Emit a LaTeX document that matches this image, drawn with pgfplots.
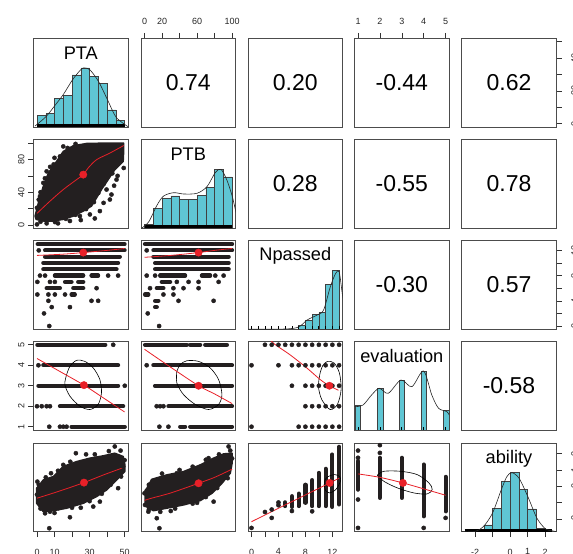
\documentclass[border=0pt]{standalone}
\usepackage{fontspec}
\setmainfont{Liberation Sans}
\usepackage{pgfplots}
\pgfplotsset{compat=1.18}
\definecolor{ptcol}{RGB}{35,31,32}
\definecolor{rcol}{RGB}{232,32,40}
\definecolor{histcol}{RGB}{95,198,212}
\newcommand\namefont{\fontsize{18.2}{20}\selectfont}
\newcommand\corfont{\fontsize{23}{25}\selectfont}
\pgfplotsset{
  panel/.style={scale only axis, width=94.6pt, height=88.5pt, anchor=south west,
    axis line style={draw=black!70, line width=0.7pt},
    xtick=\empty, ytick=\empty, tick align=outside, major tick length=5.5pt,
    tick style={black!80, line width=0.6pt},
    tick label style={font=\fontsize{9}{10}\selectfont, text=black!85},
    /pgf/number format/assume math mode=true},
  pts/.style={only marks, mark=*, mark size=2.1pt, color=ptcol, mark options={draw=none, fill=ptcol}},
  seg/.style={no markers, color=ptcol, line width=4.2pt, line cap=round, unbounded coords=jump},
  loess/.style={no markers, color=rcol, line width=0.8pt, smooth},
  mdot/.style={only marks, mark=*, mark size=3.7pt, color=rcol, mark options={draw=none, fill=rcol}},
  ell/.style={no markers, black, line width=0.6pt, smooth},
  blob/.style={fill=ptcol, draw=ptcol, line width=1.5pt, line join=round},
  hist/.style={ybar interval, fill=histcol, draw=black!75, line width=0.5pt},
  dens/.style={no markers, smooth, black!85, line width=0.6pt},
  rug/.style={no markers, black, line width=3pt},
  rugc/.style={ycomb, no markers, black, line width=0.8pt},
  rlab/.style={ytick pos=right, yticklabel pos=right, yticklabel style={rotate=90, anchor=north, yshift=-6pt}},
  blab/.style={xtick pos=left, xticklabel style={yshift=-8pt}},
}
\begin{document}
\begin{tikzpicture}
\path[use as bounding box] (0pt,0pt) rectangle (573pt,554pt);
\clip (0pt,0pt) rectangle (573pt,554pt);

% ================= ROW 1 =================
\begin{axis}[panel, at={(33.5pt,427pt)}, xmin=-2, xmax=52, ymin=0, ymax=88.5]
\addplot[hist] coordinates {(0,11.3)(5,13.3)(10,28.3)(15,31.3)(20,52)(25,59)(30,50.7)(35,43.3)(40,17)(45,6.3)(50,0)};
\addplot[rug] coordinates {(0,1.5)(50,1.5)};
\addplot[dens] coordinates {(-1.1,1)(5.1,10.3)(10,21)(15.1,32.7)(20.2,47)(25.2,57.7)(27.4,59)(30.3,57)(35.2,45.3)(40.3,27)(45.2,9.7)(52,0.3)};
\node[font=\namefont, anchor=base] at (rel axis cs:0.5,0.765) {PTA};
\end{axis}
\begin{axis}[panel, at={(141pt,427pt)}, xmin=-4, xmax=104, ymin=0, ymax=1,
  xtick={0,20,40,60,80,100}, xticklabels={0,20,,60,,100}, xtick pos=right, xticklabel pos=right, xticklabel style={yshift=5pt}]
\node[font=\corfont] at (rel axis cs:0.5,0.5) {0.74};
\end{axis}
\begin{axis}[panel, at={(248pt,427pt)}, xmin=0, xmax=1, ymin=0, ymax=1]
\node[font=\corfont] at (rel axis cs:0.5,0.5) {0.20};
\end{axis}
\begin{axis}[panel, at={(354.5pt,427pt)}, xmin=0.84, xmax=5.16, ymin=0, ymax=1,
  xtick={1,2,3,4,5}, xtick pos=right, xticklabel pos=right, xticklabel style={yshift=5pt}]
\node[font=\corfont] at (rel axis cs:0.5,0.5) {-0.44};
\end{axis}
\begin{axis}[panel, rlab, at={(461.7pt,427pt)}, xmin=0, xmax=1, ymin=-2, ymax=52,
  ytick={0,10,20,30,40,50}, yticklabels={0,,20,,40,}]
\node[font=\corfont] at (rel axis cs:0.5,0.5) {0.62};
\end{axis}

% ================= ROW 2 =================
\begin{axis}[panel, at={(33.5pt,325.7pt)}, xmin=-2, xmax=52, ymin=-4, ymax=104,
  ytick={0,20,40,60,80,100}, yticklabels={0,,40,,80,}, ytick pos=left,
  yticklabel style={rotate=90, anchor=south}]
\addplot[blob] coordinates {(-1.1,10.9)(0.8,27.1)(3.6,47.3)(6.5,63.5)(11.2,77.7)(15,89.8)(20.7,96.7)(28.3,99.5)(39.7,100)(49.5,100)(49.5,91.8)(49.2,77.7)(44.4,67.5)(40.6,55.4)(36.8,43.3)(34,33.2)(31.1,23.1)(26.4,17)(20.7,10.9)(15,6.9)(9.3,4.9)(3.6,4.9)(-0.5,6.9)} --cycle;
\addplot[pts] coordinates {(15,95.9)(13.1,83.7)(5.5,65.5)(3.6,51.4)(1.7,35.2)(0,0.8)(5.5,2)(10.3,3.6)(24.5,10.9)(30.2,12.9)(39.7,43.3)(42.5,37.2)(35.9,17)(41.6,31.1)(45.4,55.4)(49.5,69.6)(18.8,4.9)(8.4,63.5)(0,21)(33,8)(46,60)(12,2)
 (2,40)(4.5,57)(7.5,71)(10,82)(17.5,94)(22,99)(9.5,74)(1,31)(47,80)(43,63)(38,50)(35,39)(32.5,28)(28,19.5)(22,12.5)(16.5,7.5)(44,72)(48,86)(25,6)(38,27)(44,48)(6,6)(2,4)};
\addplot[loess] coordinates {(0,14.2)(7.4,29.1)(15,43.3)(22.6,55.4)(26.4,61.5)(29.2,69.6)(34,79.7)(41.6,87.8)(49.5,97)};
\addplot[mdot] coordinates {(26.4,61.5)};
\end{axis}
\begin{axis}[panel, at={(141pt,325.7pt)}, xmin=-4, xmax=104, ymin=0, ymax=88.5]
\addplot[hist] coordinates {(0,4)(10,20)(20,29.6)(30,32.3)(40,29)(50,28.6)(60,32.6)(70,40.6)(80,59)(90,51.3)(100,0)};
\addplot[rug] coordinates {(0,1.5)(100,1.5)};
\addplot[dens] coordinates {(-3.4,0)(4.9,6.6)(14.4,23.3)(21.9,32.3)(33.3,35.6)(44.7,34.3)(59.9,35)(71.3,41.6)(80.7,55.6)(87.2,59)(94,48.3)(100.3,31.6)(104.5,15.3)};
\node[font=\namefont, anchor=base] at (rel axis cs:0.5,0.766) {PTB};
\end{axis}
\begin{axis}[panel, at={(248pt,325.7pt)}, xmin=0, xmax=1, ymin=0, ymax=1]
\node[font=\corfont] at (rel axis cs:0.5,0.5) {0.28};
\end{axis}
\begin{axis}[panel, at={(354.5pt,325.7pt)}, xmin=0, xmax=1, ymin=0, ymax=1]
\node[font=\corfont] at (rel axis cs:0.5,0.5) {-0.55};
\end{axis}
\begin{axis}[panel, at={(461.7pt,325.7pt)}, xmin=0, xmax=1, ymin=0, ymax=1]
\node[font=\corfont] at (rel axis cs:0.5,0.5) {0.78};
\end{axis}

% ================= ROW 3 =================
\begin{axis}[panel, at={(33.5pt,224.7pt)}, xmin=-2, xmax=52, ymin=-0.52, ymax=13.52]
\addplot[seg] coordinates {(0.4,13)(50,13) (0,nan) (4.6,12)(50,12) (0,nan) (4.6,11)(47.3,11) (0,nan) (3.6,10)(46.3,10) (0,nan) (3.6,9)(45.4,9) (0,nan)
 (10.2,8)(26.4,8) (0,nan) (31.1,8)(34.9,8) (0,nan) (16,7)(19.7,7) (0,nan) (23.5,7)(26.4,7) (0,nan) (5.5,6)(13.1,6) (0,nan) (20.7,6)(26.4,6) (0,nan) (19.7,5)(21.6,5)};
\addplot[pts] coordinates {(1,12)(1.7,8)(4.6,8)(40.6,8)(46.3,8)(0.2,7)(7.4,7)(10.2,7)(34,6)(0.2,5)(6.5,5)(10.2,5)(16,5)(6.5,4)(31.1,4)(34.9,4)(8.4,3)(18.8,3)(4,2)(7,0)};
\addplot[loess] coordinates {(0,11.2)(15,11.4)(26.4,11.65)(40,12)(50,12.3)};
\addplot[mdot] coordinates {(26.4,11.65)};
\end{axis}
\begin{axis}[panel, at={(141pt,224.7pt)}, xmin=-4, xmax=104, ymin=-0.52, ymax=13.52]
\addplot[seg] coordinates {(0.5,13)(100,13) (0,nan) (10.2,12)(100,12) (0,nan) (10.2,11)(96.1,11) (0,nan) (12.1,10)(96.1,10) (0,nan) (12.1,9)(96.1,9) (0,nan)
 (17.8,8)(46.4,8) (0,nan) (65.5,8)(75,8) (0,nan) (19.7,7)(29.3,7) (0,nan) (14,6)(21.6,6) (0,nan) (0.6,5)(4.4,5) (0,nan) (12.1,4)(15.9,4) (0,nan) (12.1,3)(14,3)};
\addplot[pts] coordinates {(2.5,12)(2.5,8)(12.1,8)(80.8,8)(90.3,8)(36.9,7)(50.3,7)(61.7,7)(84.6,7)(6.3,6)(33,6)(44.5,6)(61.7,6)(21.6,5)(33,5)(38.8,4)(78.9,4)(3.7,2)(16.7,0)};
\addplot[loess] coordinates {(0,10.9)(30,11.2)(61.7,11.65)(80,12)(100,12.3)};
\addplot[mdot] coordinates {(61.7,11.65)};
\end{axis}
\begin{axis}[panel, at={(248pt,224.7pt)}, xmin=-0.52, xmax=13.52, ymin=0, ymax=88.5]
\addplot[hist] coordinates {(7,3.6)(8,8.6)(9,15)(10,16.6)(11,45)(12,58.6)(13,0)};
\addplot[rugc] coordinates {(0,3)(1,3)(2,3)(3,3)(4,3)(5,3)(6,3)(7,3)(8,3)(9,3)(10,3)(11,3)(12,3)(13,3)};
\addplot[dens] coordinates {(-0.55,0)(5,0.3)(7,2.3)(8.25,9.3)(9.75,14.3)(10.7,19.3)(11.7,42.6)(12.5,56)(13,57.6)(13.4,39.3)(13.7,22.6)};
\node[font=\namefont, anchor=base] at (rel axis cs:0.5,0.774) {Npassed};
\end{axis}
\begin{axis}[panel, at={(354.5pt,224.7pt)}, xmin=0, xmax=1, ymin=0, ymax=1]
\node[font=\corfont] at (rel axis cs:0.5,0.5) {-0.30};
\end{axis}
\begin{axis}[panel, rlab, at={(461.7pt,224.7pt)}, xmin=0, xmax=1, ymin=-0.52, ymax=13.52,
  ytick={0,2,4,6,8,10,12}, yticklabels={0,,4,,8,,12}]
\node[font=\corfont] at (rel axis cs:0.5,0.5) {0.57};
\end{axis}

% ================= ROW 4 =================
\begin{axis}[panel, at={(33.5pt,124pt)}, xmin=-2, xmax=52, ymin=0.84, ymax=5.16,
  ytick={1,2,3,4,5}, ytick pos=left, yticklabel style={rotate=90, anchor=south}]
\addplot[seg] coordinates {(0.2,5)(39,5) (0,nan) (3.6,4)(46.3,4) (0,nan) (0.8,3)(46.3,3) (0,nan) (13.1,2)(49.2,2) (0,nan) (19.7,1)(50.1,1)};
\addplot[pts] coordinates {(43.5,5)(0.8,4)(50.1,3)(0,2)(2.7,2)(5.5,2)(7.4,2)(7,1)(13.1,1)(15,1)(16.9,1)};
\addplot[ell] coordinates {(16.9,3.54)(15.9,3.06)(18.8,2.49)(24.5,2.0)(30.2,1.84)(34.9,2.09)(36.8,2.65)(35.9,3.3)(32.1,3.87)(27.3,4.19)(22.6,4.24)(18.8,3.95)(16.9,3.54)};
\addplot[loess] coordinates {(0,4.33)(13,3.7)(26.8,3.03)(38,2.4)(50,1.72)};
\addplot[mdot] coordinates {(26.8,3.03)};
\end{axis}
\begin{axis}[panel, at={(141pt,124pt)}, xmin=-4, xmax=104, ymin=0.84, ymax=5.16]
\addplot[seg] coordinates {(0.6,5)(48.3,5) (0,nan) (52.1,5)(63.6,5) (0,nan) (69.3,5)(94.1,5) (0,nan) (10.1,4)(99.9,4) (0,nan) (12,3)(99.9,3) (0,nan) (27.3,2)(99.9,2) (0,nan) (40.7,1)(46.4,1) (0,nan) (52.1,1)(99.9,1)};
\addplot[pts] coordinates {(2.5,4)(13.9,2)(17.8,2)(21.6,2)(17,1)(27.3,1)};
\addplot[ell] coordinates {(36.9,3.7)(36.9,3.14)(44.5,2.57)(57.9,2.09)(73.1,1.84)(84.6,2.09)(88.4,2.57)(84.6,3.3)(75,3.87)(61.7,4.19)(48.3,4.22)(40.7,4.03)(36.9,3.7)};
\addplot[loess] coordinates {(0,4.78)(30,3.9)(61.7,3.0)(80,2.6)(100,2.13)};
\addplot[mdot] coordinates {(61.7,3.0)};
\end{axis}
\begin{axis}[panel, at={(248pt,124pt)}, xmin=-0.52, xmax=13.52, ymin=0.84, ymax=5.16]
\addplot[pts] coordinates {(2,5)(3,5)(4,5)(5,5)(6,5)(7,5)(8,5)(9,5)(10,5)(11,5)(12,5)(13,5)
 (0,4)(4,4)(6,4)(7,4)(8,4)(9,4)(10,4)(11,4)(12,4)(13,4)
 (6,3)(8,3)(9,3)(10,3)(11,3)(12,3)(13,3)
 (8,2)(9,2)(10,2)(11,2)(12,2)(13,2)
 (0,1)(7,1)(8,1)(9,1)(10,1)(11,1)(12,1)(13,1)};
\addplot[ell] coordinates {(10.18,3.62)(9.93,2.98)(10.42,2.33)(11.66,1.84)(12.75,2.09)(13.3,2.81)(13.05,3.62)(12.26,4.11)(11.27,4.19)(10.57,3.98)(10.18,3.62)};
\addplot[loess] coordinates {(2,5.55)(3.24,5.08)(5.72,4.51)(8.2,3.87)(10.2,3.3)(11.56,3.0)(12.9,2.78)};
\addplot[mdot] coordinates {(11.56,3.0)};
\end{axis}
\begin{axis}[panel, at={(354.5pt,124pt)}, xmin=0.84, xmax=5.16, ymin=0, ymax=88.5]
\addplot[fill=histcol, draw=black!75, line width=0.5pt] coordinates {(0.87,0)(0.87,24.3)(1.12,24.3)(1.12,0)} --cycle;
\addplot[fill=histcol, draw=black!75, line width=0.5pt] coordinates {(1.87,0)(1.87,41.7)(2.13,41.7)(2.13,0)} --cycle;
\addplot[fill=histcol, draw=black!75, line width=0.5pt] coordinates {(2.88,0)(2.88,50)(3.12,50)(3.12,0)} --cycle;
\addplot[fill=histcol, draw=black!75, line width=0.5pt] coordinates {(3.88,0)(3.88,58.3)(4.12,58.3)(4.12,0)} --cycle;
\addplot[fill=histcol, draw=black!75, line width=0.5pt] coordinates {(4.89,0)(4.89,20)(5.15,20)(5.15,0)} --cycle;
\addplot[rugc] coordinates {(1,3)(2,3)(3,3)(4,3)(5,3)};
\addplot[dens] coordinates {(0.85,23.3)(1.23,25)(1.62,35)(1.97,41.7)(2.38,36.7)(2.96,50)(3.46,43.3)(3.99,59)(4.37,35)(4.68,21.7)(5.06,18.3)(5.22,12.7)};
\node[font=\namefont, anchor=base] at (rel axis cs:0.5,0.757) {evaluation};
\end{axis}
\begin{axis}[panel, at={(461.7pt,124pt)}, xmin=0, xmax=1, ymin=0, ymax=1]
\node[font=\corfont] at (rel axis cs:0.5,0.5) {-0.58};
\end{axis}

% ================= ROW 5 =================
\begin{axis}[panel, blab, at={(33.5pt,22.3pt)}, xmin=-2, xmax=52, ymin=-2.76, ymax=2.63,
  xtick={0,10,20,30,40,50}, xticklabels={0,10,,30,,50}]
\addplot[blob] coordinates {(-0.2,-0.11)(3.6,0.39)(9.3,0.6)(15,1.21)(22.6,1.51)(30.2,1.72)(37.8,1.86)(44.4,2.02)(49.2,1.82)(50.2,1.31)(50.1,0.9)(45.4,0.39)(39.7,-0.22)(34,-0.62)(26.4,-1.03)(16.9,-1.33)(9.3,-1.48)(3.6,-1.54)(-0.2,-1.03)} --cycle;
\addplot[pts] coordinates {(7,-2.55)(18.8,-1.88)(44.4,2.43)(47.7,2.18)(22.2,2.02)(15,1.31)(0.2,0.29)(46.3,-0.11)(35.9,-0.93)(32.1,-1.23)(12.2,-1.33)(4.6,-1.64)(7.4,-1.54)(49.2,1.21)(0,-0.5)(28,1.95)
 (5,0.55)(12,0.95)(19,1.5)(33,1.95)(41,2.15)(50,1.6)(48,0.6)(42,0.1)(37,-0.45)(30,-0.9)(20,-1.3)(10,-1.62)(2,-1.35)(25,-1.3)(1,0.1)(8,0.8)(40,1.0)};
\addplot[loess] coordinates {(0,-0.72)(13,-0.28)(26.8,0.23)(38,0.7)(50,1.17)};
\addplot[mdot] coordinates {(26.8,0.23)};
\end{axis}
\begin{axis}[panel, at={(141pt,22.3pt)}, xmin=-4, xmax=104, ymin=-2.76, ymax=2.63]
\addplot[blob] coordinates {(0.6,-0.32)(8.2,0.43)(25.4,0.7)(44.5,0.9)(63.6,1.31)(78.9,1.72)(90.3,1.98)(99.9,2.02)(100,1.41)(97.9,0.8)(88.4,0.19)(77,-0.42)(63.6,-0.87)(44.5,-1.13)(25.4,-1.33)(10.1,-1.48)(0.6,-1.19)} --cycle;
\addplot[pts] coordinates {(0.6,-1.13)(4.4,-1.54)(14,-1.94)(17,-2.55)(0,-0.42)(2.5,-0.26)(73.1,1.72)(96,2.43)(97.9,2.18)(78.9,-0.93)(36.9,0.8)(48.3,0.76)(14,0.39)(30,-1.5)(60,-1.0)
 (5,0.1)(20,0.78)(40,1.0)(55,1.2)(70,1.62)(85,1.95)(100,1.7)(95,0.5)(83,-0.1)(70,-0.65)(55,-1.05)(35,-1.35)(18,-1.55)(5,-1.4)};
\addplot[loess] coordinates {(0,-0.85)(8,-0.72)(30,-0.4)(61.7,0.19)(80,0.55)(100,1.05)};
\addplot[mdot] coordinates {(61.7,0.19)};
\end{axis}
\begin{axis}[panel, blab, at={(248pt,22.3pt)}, xmin=-0.52, xmax=13.52, ymin=-2.76, ymax=2.63,
  xtick={0,2,4,6,8,10,12}, xticklabels={0,,4,,8,,12}]
\addplot[seg] coordinates {(5,-0.97)(5,-1.2) (0,nan) (6,-0.6)(6,-1.25) (0,nan) (7,-0.44)(7,-1.2) (0,nan) (8,0.1)(8,-1.0) (0,nan) (9,0.38)(9,-1.2) (0,nan)
 (10,0.82)(10,-1.2) (0,nan) (11,1.07)(11,-1.2) (0,nan) (12,1.94)(12,-1.25) (0,nan) (13,2.41)(13,-1.1)};
\addplot[pts] coordinates {(0,-2.53)(2,-1.56)(3,-1.41)(3,-1.92)(4,-0.98)(4,-1.15)(9,-1.52)(6,-1.5)};
\addplot[ell] coordinates {(10.8,0.1)(11,-0.25)(11.6,-0.4)(12.5,-0.2)(13.2,0.3)(13.1,0.6)(12.3,0.72)(11.4,0.6)(10.9,0.4)(10.8,0.1)};
\addplot[loess] coordinates {(0,-2.15)(5,-1.13)(11.6,0.21)(13,0.5)};
\addplot[mdot] coordinates {(11.6,0.21)};
\end{axis}
\begin{axis}[panel, at={(354.5pt,22.3pt)}, xmin=0.84, xmax=5.16, ymin=-2.76, ymax=2.63]
\addplot[seg] coordinates {(1,1.54)(1,-0.2) (0,nan) (2,1.74)(2,-0.7) (0,nan) (3,1.74)(3,-0.7) (0,nan) (4,1.33)(4,-1.82) (0,nan) (5,0.58)(5,-1.52)};
\addplot[pts] coordinates {(1,2.18)(1,1.74)(1,-0.8)(1,-2.53)(2,2.51)(2,2.04)(4,-2.53)(5,-1.92)};
\addplot[ell] coordinates {(1.88,0.68)(2.18,0.92)(2.94,0.92)(3.7,0.72)(4.24,0.21)(4.39,-0.19)(4.16,-0.46)(3.55,-0.4)(2.79,-0.09)(2.18,0.31)(1.88,0.68)};
\addplot[loess] coordinates {(1,0.76)(2,0.55)(3.05,0.21)(4,-0.15)(5,-0.54)};
\addplot[mdot] coordinates {(3.05,0.21)};
\end{axis}
\begin{axis}[panel, blab, rlab, at={(461.7pt,22.3pt)}, xmin=-2.76, xmax=2.63, ymin=0, ymax=88.5,
  xtick={-2,-1,0,1,2}, xticklabels={-2,,0,1,2},
  ytick={12.5,28.9,45.3,61.7,78.1}, yticklabels={-2,,0,1,2}]
\addplot[hist] coordinates {(-1.5,6.7)(-1,23.4)(-0.5,50)(0,59)(0.5,42.4)(1,22.7)(1.5,3.4)(2,0)};
\addplot[rug] coordinates {(-2.6,1.5)(2.4,1.5)};
\addplot[dens] coordinates {(-2.76,0)(-2,0.3)(-1.53,5)(-1.01,18.4)(-0.51,41.7)(-0.19,55)(0.1,59)(0.51,53.4)(1.01,35)(1.53,13.4)(2.02,2.7)(2.38,1)(2.63,0)};
\node[font=\namefont, anchor=base] at (rel axis cs:0.5,0.774) {ability};
\end{axis}
\end{tikzpicture}
\end{document}
